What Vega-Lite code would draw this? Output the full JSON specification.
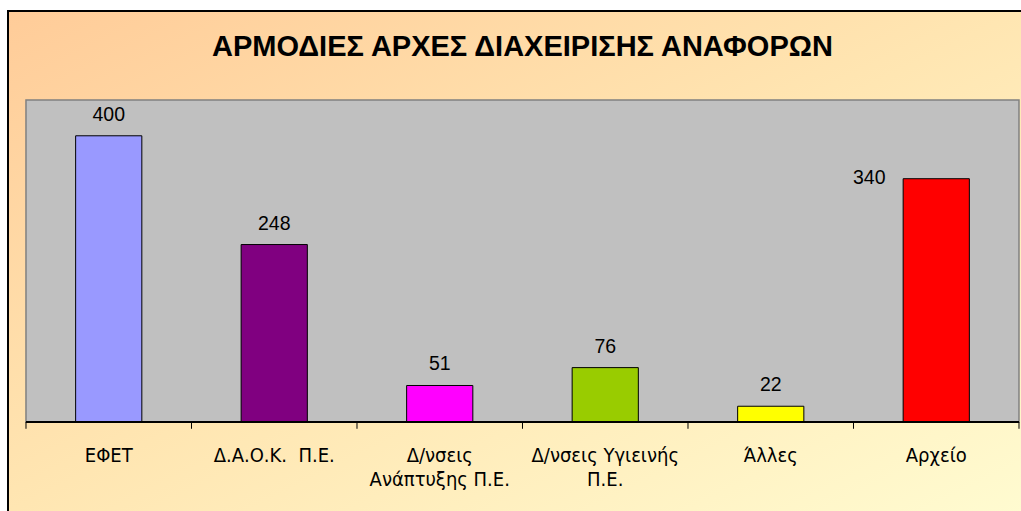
{
  "$schema": "https://vega.github.io/schema/vega-lite/v6.json",
  "width": 1014,
  "height": 501,
  "autosize": {"type": "none"},
  "padding": {"left": 8, "top": 11, "right": 0, "bottom": 0},
  "background": "#FFFFFF",
  "config": {
    "view": {
      "fill": {"gradient": "linear", "x1": 0, "y1": 0, "x2": 1, "y2": 1,
        "stops": [{"offset": 0, "color": "#FFCC99"}, {"offset": 0.5, "color": "#FFE6B2"}, {"offset": 1, "color": "#FFFBD0"}]},
      "stroke": "#000000",
      "strokeWidth": 2
    }
  },
  "datasets": {
    "main": [
      {"cat": "ΕΦΕΤ", "label": "ΕΦΕΤ", "value": 400},
      {"cat": "Δ.Α.Ο.Κ. Π.Ε.", "label": "Δ.Α.Ο.Κ.\u00a0 Π.Ε.", "value": 248},
      {"cat": "Δ/νσεις Ανάπτυξης Π.Ε.", "label": "Δ/νσεις\nΑνάπτυξης Π.Ε.", "value": 51},
      {"cat": "Δ/νσεις Υγιεινής Π.Ε.", "label": "Δ/νσεις Υγιεινής\nΠ.Ε.", "value": 76},
      {"cat": "Άλλες", "label": "Άλλες", "value": 22},
      {"cat": "Αρχείο", "label": "Αρχείο", "value": 340}
    ],
    "frame": [{"first": "ΕΦΕΤ", "last": "Αρχείο", "title": "ΑΡΜΟΔΙΕΣ ΑΡΧΕΣ ΔΙΑΧΕΙΡΙΣΗΣ ΑΝΑΦΟΡΩΝ", "mid": "Δ/νσεις Υγιεινής Π.Ε."}]
  },
  "resolve": {"scale": {"x": "shared", "y": "shared"}},
  "layer": [
    {
      "data": {"name": "frame"},
      "mark": {"type": "rect", "fill": "#C0C0C0", "stroke": "#808080", "strokeWidth": 1.5},
      "encoding": {
        "x": {"field": "first", "type": "nominal", "bandPosition": 0, "axis": null,
          "scale": {"type": "band", "domain": ["ΕΦΕΤ", "Δ.Α.Ο.Κ. Π.Ε.", "Δ/νσεις Ανάπτυξης Π.Ε.", "Δ/νσεις Υγιεινής Π.Ε.", "Άλλες", "Αρχείο"], "paddingInner": 0, "paddingOuter": 0.0634, "align": 0.857}},
        "x2": {"field": "last", "bandPosition": 1},
        "y": {"datum": 450, "type": "quantitative", "axis": null, "scale": {"domain": [-125.8, 574.4], "nice": false, "zero": false}},
        "y2": {"datum": 0}
      }
    },
    {
      "data": {"name": "main"},
      "mark": {"type": "bar", "stroke": "#000000", "strokeWidth": 1, "width": {"band": 0.4}},
      "encoding": {
        "x": {"field": "cat", "type": "nominal", "axis": null},
        "y": {"field": "value", "type": "quantitative", "axis": null},
        "color": {"field": "cat", "type": "nominal", "legend": null,
          "scale": {"domain": ["ΕΦΕΤ", "Δ.Α.Ο.Κ. Π.Ε.", "Δ/νσεις Ανάπτυξης Π.Ε.", "Δ/νσεις Υγιεινής Π.Ε.", "Άλλες", "Αρχείο"],
            "range": ["#9999FF", "#800080", "#FF00FF", "#99CC00", "#FFFF00", "#FF0000"]}}
      }
    },
    {
      "data": {"name": "frame"},
      "mark": {"type": "rule", "color": "#000000", "strokeWidth": 2},
      "encoding": {
        "x": {"field": "first", "type": "nominal", "bandPosition": 0, "axis": null},
        "x2": {"field": "last", "bandPosition": 1},
        "y": {"datum": 0, "type": "quantitative", "axis": null}
      }
    },
    {
      "data": {"name": "main"},
      "mark": {"type": "rule", "color": "#000000", "strokeWidth": 1},
      "encoding": {
        "x": {"field": "cat", "type": "nominal", "bandPosition": 0, "axis": null},
        "y": {"datum": 0, "type": "quantitative", "axis": null},
        "y2": {"datum": -9.5}
      }
    },
    {
      "data": {"name": "frame"},
      "mark": {"type": "rule", "color": "#000000", "strokeWidth": 1},
      "encoding": {
        "x": {"field": "last", "type": "nominal", "bandPosition": 1, "axis": null},
        "y": {"datum": 0, "type": "quantitative", "axis": null},
        "y2": {"datum": -9.5}
      }
    },
    {
      "data": {"name": "main"},
      "transform": [{"filter": "datum.cat != 'Αρχείο'"}],
      "mark": {"type": "text", "font": "Liberation Sans", "fontSize": 19.5, "color": "#000000", "dy": -15, "baseline": "alphabetic", "align": "center"},
      "encoding": {
        "x": {"field": "cat", "type": "nominal", "axis": null},
        "y": {"field": "value", "type": "quantitative", "axis": null},
        "text": {"field": "value", "type": "quantitative"}
      }
    },
    {
      "data": {"name": "main"},
      "transform": [{"filter": "datum.cat == 'Αρχείο'"}],
      "mark": {"type": "text", "font": "Liberation Sans", "fontSize": 19.5, "color": "#000000", "dx": -67, "dy": 5, "baseline": "alphabetic", "align": "center"},
      "encoding": {
        "x": {"field": "cat", "type": "nominal", "axis": null},
        "y": {"field": "value", "type": "quantitative", "axis": null},
        "text": {"field": "value", "type": "quantitative"}
      }
    },
    {
      "data": {"name": "main"},
      "mark": {"type": "text", "font": "DejaVu Sans Condensed", "fontSize": 20, "color": "#000000", "baseline": "alphabetic", "align": "center", "lineBreak": "\n", "lineHeight": 24},
      "encoding": {
        "x": {"field": "cat", "type": "nominal", "axis": null},
        "y": {"datum": -55.9, "type": "quantitative", "axis": null},
        "text": {"field": "label", "type": "nominal"}
      }
    },
    {
      "data": {"name": "frame"},
      "mark": {"type": "text", "font": "Liberation Sans", "fontSize": 29, "fontWeight": "bold", "color": "#000000", "baseline": "alphabetic", "align": "center"},
      "encoding": {
        "x": {"field": "mid", "type": "nominal", "bandPosition": 0, "axis": null},
        "y": {"datum": 511.5, "type": "quantitative", "axis": null},
        "text": {"field": "title", "type": "nominal"}
      }
    }
  ]
}
